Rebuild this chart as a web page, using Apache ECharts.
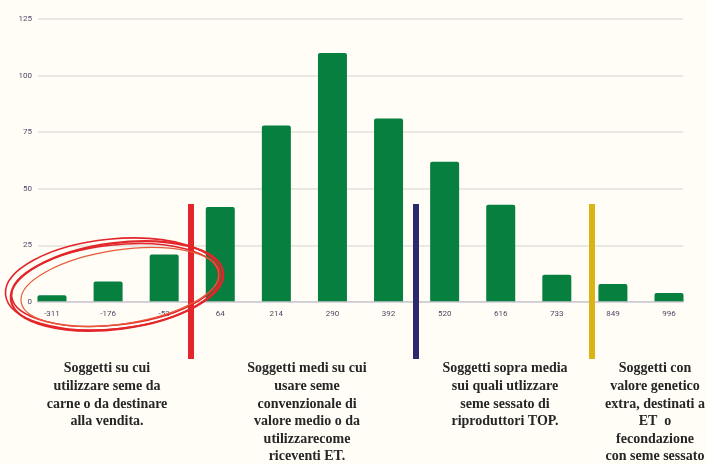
<!DOCTYPE html>
<html>
<head>
<meta charset="utf-8">
<script src="https://cdn.jsdelivr.net/npm/echarts@6/dist/echarts.min.js"></script>
<style>
  html, body { margin: 0; padding: 0; background: #fffdf6; }
  #board { width: 707px; height: 464px; }
</style>
</head>
<body>
<div id="board"></div>
<script>
// valori
var categorie = ["-311", "-176", "-53", "64", "214", "290", "392", "520", "616", "733", "849", "996"];
var soggetti = [3, 9, 21, 42, 78, 110, 81, 62, 43, 12, 8, 4];
var tickY = [0, 25, 50, 75, 100, 125];

var testi = [
  { x: 107, txt: "Soggetti su cui\nutilizzare seme da\ncarne o da destinare\nalla vendita." },
  { x: 307, txt: "Soggetti medi su cui\nusare seme\nconvenzionale di\nvalore medio o da\nutilizzarecome\nriceventi ET." },
  { x: 505, txt: "Soggetti sopra media\nsui quali utlizzare\nseme sessato di\nriproduttori TOP." },
  { x: 655, txt: "Soggetti con\nvalore genetico\nextra, destinati a\nET  o\nfecondazione\ncon seme sessato" }
];

var myChart = echarts.init(document.getElementById("board"));

var grafica = [];
// linee verticali di separazione
[[191, "#e3262b"], [416, "#2b2a6e"], [592, "#d8b417"]].forEach(function (l) {
  grafica.push({
    type: "rect", shape: { x: l[0] - 3, y: 204, width: 6, height: 155 },
    style: { fill: l[1] }, z: 10
  });
});
// cerchio rosso a mano
[
  [117, 286, 107, 43, 0.13, 2.2, "#e3262b"],
  [115, 285, 104, 40, 0.11, 1.6, "#e3262b"],
  [120, 287, 100, 37, 0.15, 1.2, "#e85a3a"],
  [113, 284, 108, 45, 0.10, 1.6, "#e3262b"]
].forEach(function (e) {
  grafica.push({
    type: "ellipse", x: e[0], y: e[1], rotation: e[4],
    shape: { cx: 0, cy: 0, rx: e[2], ry: e[3] },
    style: { fill: null, stroke: e[6], lineWidth: e[5] }, z: 11
  });
});
testi.forEach(function (t) {
  grafica.push({
    type: "text", x: t.x, y: 360,
    style: {
      text: t.txt, fill: "#262626", font: "bold 14px 'Liberation Serif'",
      textAlign: "center", textVerticalAlign: "top", lineHeight: 17.6
    }, z: 12
  });
});

myChart.setOption({
  backgroundColor: "#fffdf6",
  animation: false,
  grid: [
    { left: 38, right: 24, top: 19, bottom: 162 },
    { left: 52, right: 38, top: 19, bottom: 162 }
  ],
  xAxis: [
    { type: "value", gridIndex: 0, show: false, min: 0, max: 1 },
    {
      type: "category", gridIndex: 1, data: categorie, boundaryGap: false,
      axisLine: { show: false }, axisTick: { show: false },
      axisLabel: { color: "#4f4868", fontSize: 8, margin: 8, fontFamily: "Roboto", interval: 0 }
    }
  ],
  yAxis: [
    {
      type: "value", gridIndex: 0, min: 0, max: 125, interval: 25,
      axisLine: { show: false }, axisTick: { show: false },
      axisLabel: { color: "#4f4868", fontSize: 8, margin: 6, fontFamily: "Roboto" },
      splitLine: { lineStyle: { color: "#e2e0dc", width: 1.5 } }
    },
    { type: "value", gridIndex: 1, min: 0, max: 125, show: false }
  ],
  series: [
    {
      type: "line", xAxisIndex: 0, yAxisIndex: 0, data: [[0, 0], [1, 0]],
      symbol: "none", lineStyle: { color: "#c9c5d0", width: 1.5 }, silent: true
    },
    {
      type: "bar", xAxisIndex: 1, yAxisIndex: 1, data: soggetti, barWidth: 29, clip: false,
      itemStyle: { color: "#07803f", borderRadius: [2, 2, 0, 0] }, z: 3
    }
  ],
  graphic: grafica
});
</script>
</body>
</html>
